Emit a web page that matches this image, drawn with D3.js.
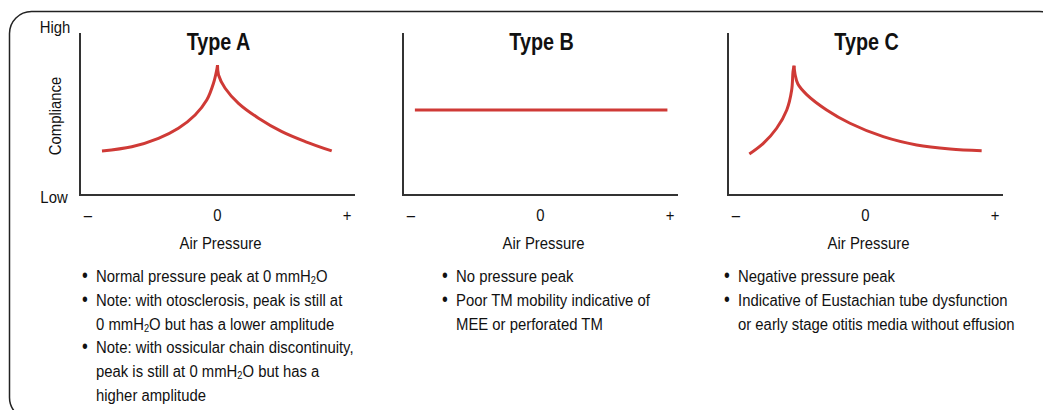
<!DOCTYPE html>
<html>
<head>
<meta charset="utf-8">
<script src="https://cdn.jsdelivr.net/npm/d3@7"></script>
<style>
  html, body { margin: 0; padding: 0; background: #fff; }
  svg { display: block; }
  text { font-family: "Liberation Sans", Arial, sans-serif; fill: #111; }
</style>
</head>
<body>
<svg id="chart" width="1043" height="410"></svg>
<script>
// ---------- DATA ----------
const categories = ["Type A", "Type B", "Type C"];
const pressureTicks = [-1, 0, 1];
const pressureTickLabels = ["\u2013", "0", "+"];
const complianceLabels = ["Low", "High"];
const xAxisTitle = "Air Pressure";
const yAxisTitle = "Compliance";

// Type A: peak at 0
const typeAPressure = [-0.892, -0.662, -0.456, -0.302, -0.173, -0.083, -0.031, -0.006, 0, 0.008, 0.059, 0.162, 0.317, 0.497, 0.677, 0.882];
const typeACompliance = [2.72, 2.98, 3.50, 4.12, 4.94, 5.86, 6.90, 7.72, 8.02, 7.41, 6.59, 5.66, 4.74, 3.91, 3.30, 2.72];
// Type B: flat, no peak
const typeBPressure = [-0.97, 0.98];
const typeBCompliance = [5.25, 5.25];
// Type C: negative pressure peak
const typeCPressure = [-0.897, -0.789, -0.686, -0.608, -0.570, -0.560, -0.552, -0.544, -0.522, -0.454, -0.300, -0.120, 0.137, 0.395, 0.653, 0.897];
const typeCCompliance = [2.53, 3.19, 4.12, 5.25, 6.48, 7.59, 7.98, 7.45, 6.85, 6.20, 5.25, 4.43, 3.60, 3.09, 2.84, 2.73];

const notesA = [
  ["Normal pressure peak at 0 mmH_2O"],
  ["Note: with otosclerosis, peak is still at", "0 mmH_2O but has a lower amplitude"],
  ["Note: with ossicular chain discontinuity,", "peak is still at 0 mmH_2O but has a", "higher amplitude"]
];
const notesB = [
  ["No pressure peak"],
  ["Poor TM mobility indicative of", "MEE or perforated TM"]
];
const notesC = [
  ["Negative pressure peak"],
  ["Indicative of Eustachian tube dysfunction", "or early stage otitis media without effusion"]
];

// ---------- LAYOUT ----------
const panelAxisX = [80, 403, 728];
const noteTextX = [96, 456, 738];
const axisTop = 33, axisBottom = 195, axisLen = 275;
const red = "#cf3a36";
const SX = 0.86;     // horizontal condensing (condensed typeface look)
const FS = 17.3;

const series = [
  { p: typeAPressure, c: typeACompliance, notes: notesA },
  { p: typeBPressure, c: typeBCompliance, notes: notesB },
  { p: typeCPressure, c: typeCCompliance, notes: notesC }
];

const svg = d3.select("#chart");

// condensed text helper
function ctext(parent, x, y, opts = {}) {
  const rot = opts.rotate ? ` rotate(${opts.rotate})` : "";
  const t = parent.append("text")
    .attr("transform", `translate(${x},${y})${rot} scale(${opts.sx || SX},1)`)
    .attr("text-anchor", opts.anchor || "start")
    .style("font-size", (opts.fs || FS) + "px");
  if (opts.bold) t.style("font-weight", "bold");
  return t;
}

// Rounded frame
svg.append("rect")
  .attr("x", 9.5).attr("y", 11.5)
  .attr("width", 1052).attr("height", 408)
  .attr("rx", 22).attr("ry", 22)
  .attr("fill", "none").attr("stroke", "#222").attr("stroke-width", 1.5);

const y = d3.scaleLinear().domain([0, 10]).range([axisBottom, axisTop]);

// Y labels
ctext(svg, 55, 33, { anchor: "middle" }).text(complianceLabels[1]);
ctext(svg, 54, 203, { anchor: "middle" }).text(complianceLabels[0]);
ctext(svg, 61, 116, { anchor: "middle", rotate: -90 }).text(yAxisTitle);

function addRichText(sel, str, fs) {
  const parts = str.split("_");
  sel.append("tspan").text(parts[0]);
  if (parts.length > 1) {
    sel.append("tspan").style("font-size", (fs * 0.62) + "px").attr("dy", 2).text(parts[1].charAt(0));
    sel.append("tspan").attr("dy", -2).text(parts[1].slice(1));
  }
}

series.forEach((s, i) => {
  const ax = panelAxisX[i];
  const g = svg.append("g");
  const x = d3.scaleLinear().domain([-1, 1]).range([ax + 8, ax + 267]);

  // axes (L shape)
  g.append("path")
    .attr("d", `M${ax},${axisTop} V${axisBottom} H${ax + axisLen}`)
    .attr("fill", "none").attr("stroke", "#333").attr("stroke-width", 2);

  // tick labels
  pressureTicks.forEach((d, k) => {
    ctext(g, x(d), 221, { anchor: "middle" }).text(pressureTickLabels[k]);
  });

  // axis title
  ctext(g, x(0) + 3, 249, { anchor: "middle" }).text(xAxisTitle);

  // panel title
  ctext(g, x(0) + 1, 49.5, { anchor: "middle", fs: 23, bold: true, sx: 0.86 }).text(categories[i]);

  // curve, split at peak to keep the cusp sharp
  const pts = s.p.map((p, k) => [p, s.c[k]]);
  const line = d3.line().x(d => x(d[0])).y(d => y(d[1])).curve(d3.curveCatmullRom.alpha(0.5));
  const segments = [];
  if (pts.length > 2) {
    const pk = d3.maxIndex(s.c);
    segments.push(pts.slice(0, pk + 1));
    segments.push(pts.slice(pk));
  } else {
    segments.push(pts);
  }
  segments.forEach(seg => {
    g.append("path").attr("d", line(seg))
      .attr("fill", "none").attr("stroke", red).attr("stroke-width", 3)
      .attr("stroke-linecap", "butt");
  });

  // notes
  const tx = noteTextX[i];
  let lineIdx = 0;
  s.notes.forEach(note => {
    note.forEach((ln, j) => {
      const yy = 282 + lineIdx * 23.8;
      if (j === 0) {
        ctext(g, tx - 11, yy, { anchor: "middle", fs: FS + 2 }).text("\u2022");
      }
      const t = ctext(g, tx, yy);
      addRichText(t, ln, FS);
      lineIdx++;
    });
  });
});
</script>
</body>
</html>
